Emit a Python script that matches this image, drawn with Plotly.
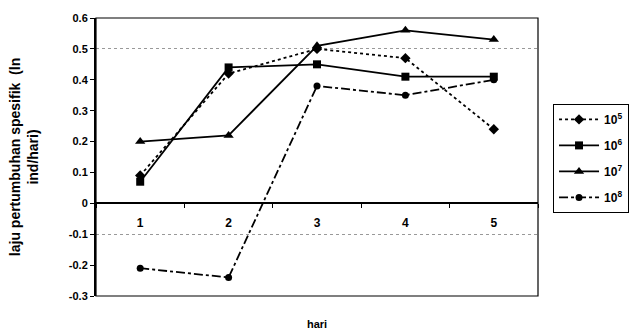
import plotly.graph_objects as go

# Day of observation and specific growth rate per initial density
hari = ["1", "2", "3", "4", "5"]
rate_1e5 = [0.09, 0.42, 0.50, 0.47, 0.24]
rate_1e6 = [0.07, 0.44, 0.45, 0.41, 0.41]
rate_1e7 = [0.20, 0.22, 0.51, 0.56, 0.53]
rate_1e8 = [-0.21, -0.24, 0.38, 0.35, 0.40]

series_names = ["10<sup>5</sup>", "10<sup>6</sup>", "10<sup>7</sup>", "10<sup>8</sup>"]
y_ticks = [0.6, 0.5, 0.4, 0.3, 0.2, 0.1, 0, -0.1, -0.2, -0.3]
y_tick_text = ["0.6", "0.5", "0.4", "0.3", "0.2", "0.1", "0", "-0.1", "-0.2", "-0.3"]
grid_values = [0.5, -0.1]

FONT = "Liberation Sans, Arial, sans-serif"
Y_MIN, Y_MAX = -0.3, 0.6

styles = [
    dict(dash="dot", symbol="diamond", size=8),
    dict(dash="solid", symbol="square", size=8),
    dict(dash="solid", symbol="triangle-up", size=9),
    dict(dash="dashdot", symbol="circle", size=7),
]

fig = go.Figure()

# invisible helper trace to draw the dotted grid on its own axis
fig.add_trace(go.Scatter(x=hari, y=[None] * len(hari), xaxis="x", yaxis="y2",
                         showlegend=False, hoverinfo="skip"))

for i, (name, vals, st) in enumerate(zip(series_names,
                                         [rate_1e5, rate_1e6, rate_1e7, rate_1e8], styles)):
    fig.add_trace(go.Scatter(
        x=hari, y=vals, name=name, mode="lines+markers", legendgroup=f"g{i}",
        line=dict(color="black", width=1.8, dash=st["dash"]),
        marker=dict(color="black", size=st["size"], symbol=st["symbol"]),
    ))

zero_pos = (0 - Y_MIN) / (Y_MAX - Y_MIN)

fig.update_layout(
    width=641, height=334,
    margin=dict(l=96, r=101, t=14, b=38),
    paper_bgcolor="white", plot_bgcolor="white",
    font=dict(family=FONT, size=11, color="black", weight=700),
    xaxis=dict(
        type="category", range=[-0.5, 4.5],
        anchor="free", position=zero_pos,
        showline=True, linecolor="black", linewidth=2,
        ticks="outside", tickson="boundaries", ticklen=4, tickwidth=1, tickcolor="black",
        showgrid=False, zeroline=False,
        tickfont=dict(family=FONT, size=12, weight=700),
        ticklabelstandoff=8,
    ),
    yaxis=dict(
        range=[Y_MIN, Y_MAX], tickvals=y_ticks, ticktext=y_tick_text,
        showline=True, linecolor="black", linewidth=2,
        ticks="outside", ticklen=4, tickcolor="black",
        showgrid=False, zeroline=False,
        tickfont=dict(family=FONT, size=11, weight=700),
        title=dict(text="laju pertumbuhan spesifik  (ln<br>ind/hari)",
                   font=dict(family=FONT, size=14, weight=700), standoff=27),
    ),
    yaxis2=dict(
        range=[Y_MIN, Y_MAX], overlaying="y", tickvals=grid_values,
        showticklabels=False, showgrid=True, gridcolor="#999999",
        griddash="dot", gridwidth=1, zeroline=False, showline=False,
    ),
    legend=dict(
        x=1.034, y=0.691, xanchor="left", yanchor="top",
        bordercolor="black", borderwidth=1, bgcolor="white",
        font=dict(family=FONT, size=12, weight=700),
        tracegroupgap=7, itemwidth=40,
    ),
    shapes=[
        dict(type="rect", xref="x domain", yref="y domain", x0=0, x1=1, y0=0, y1=1,
             line=dict(color="black", width=1.2), layer="above"),
    ],
    annotations=[
        dict(text="hari", xref="x domain", yref="paper", x=0.5, y=-0.1,
             showarrow=False, font=dict(family=FONT, size=11, weight=700),
             yanchor="middle"),
    ],
)

fig.write_html("out.html")
